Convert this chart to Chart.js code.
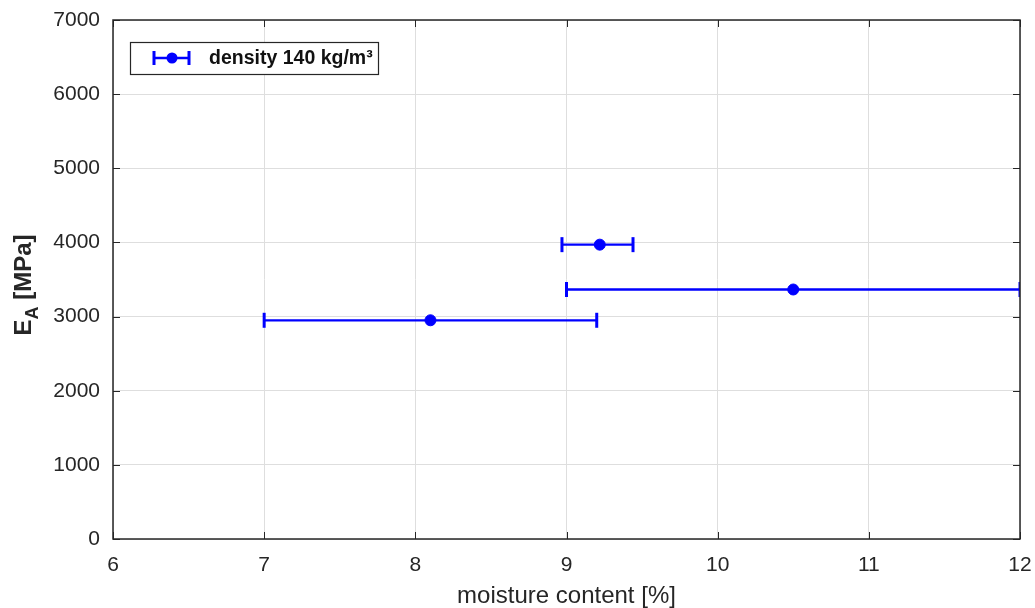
<!DOCTYPE html>
<html>
<head>
<meta charset="utf-8">
<script src="https://cdn.jsdelivr.net/npm/chart.js@4/dist/chart.umd.min.js"></script>
<style>
  html, body { margin: 0; padding: 0; background: #fff; }
  #wrap { width: 1035px; height: 608px; }
</style>
</head>
<body>
<div id="wrap"><canvas id="chart"></canvas></div>
<script>
// moisture content [%] with min / max range, and modulus E_A [MPa]
const moisture = [8.1, 9.22, 10.5]
const moistureLow = [7.0, 8.97, 9.0]
const moistureHigh = [9.2, 9.44, 12.0]
const modulus = [2950, 3970, 3365]

const xTicks = [6, 7, 8, 9, 10, 11, 12]
const yTicks = [0, 1000, 2000, 3000, 4000, 5000, 6000, 7000]

const seriesLabel = 'density 140 kg/m³'
const blue = '#0000ff'
const axisColor = '#262626'
const fontFamily = '"Liberation Sans", Arial, sans-serif'

// one little line dataset per horizontal error bar, caps drawn as rotated 'line' points
const errorSets = moisture.map((m, i) => ({
    type: 'line',
    data: [{x: moistureLow[i], y: modulus[i]}, {x: moistureHigh[i], y: modulus[i]}],
    borderColor: blue,
    borderWidth: 2.3,
    pointStyle: 'line',
    rotation: 90,
    pointRadius: 7.5,
    pointBorderWidth: 3,
    pointBorderColor: blue,
    clip: 0
}))

const pointSet = {
    type: 'scatter',
    label: seriesLabel,
    data: moisture.map((m, i) => ({x: m, y: modulus[i]})),
    backgroundColor: blue,
    borderColor: blue,
    pointRadius: 5.5,
    pointHoverRadius: 5.5
}

// frame, inner ticks, y title with subscript and the legend box
const decorations = {
    id: 'decorations',
    afterDatasetsDraw(chart) {
        const ctx = chart.ctx
        const a = chart.chartArea
        const xs = chart.scales.x
        const ys = chart.scales.y
        ctx.save()

        ctx.strokeStyle = axisColor
        ctx.lineWidth = 1
        ctx.beginPath()
        xTicks.forEach(t => {
            const px = Math.round(xs.getPixelForValue(t)) + 0.5
            ctx.moveTo(px, a.bottom); ctx.lineTo(px, a.bottom - 7)
            ctx.moveTo(px, a.top); ctx.lineTo(px, a.top + 7)
        })
        yTicks.forEach(t => {
            const py = Math.round(ys.getPixelForValue(t)) + 0.5
            ctx.moveTo(a.left, py); ctx.lineTo(a.left + 7, py)
            ctx.moveTo(a.right, py); ctx.lineTo(a.right - 7, py)
        })
        ctx.stroke()

        ctx.lineWidth = 1.5
        ctx.strokeRect(a.left, a.top, a.right - a.left, a.bottom - a.top)

        // y axis title: E_A [MPa]
        ctx.translate(23, 285)
        ctx.rotate(-Math.PI / 2)
        ctx.fillStyle = axisColor
        ctx.textBaseline = 'alphabetic'
        ctx.textAlign = 'left'
        const big = 'bold 24px ' + fontFamily
        const small = 'bold 18px ' + fontFamily
        ctx.font = big
        const wE = ctx.measureText('E').width
        ctx.font = small
        const wA = ctx.measureText('A').width
        ctx.font = big
        const wRest = ctx.measureText(' [MPa]').width
        const x0 = -(wE + wA + wRest) / 2
        const base = 8
        ctx.fillText('E', x0, base)
        ctx.font = small
        ctx.fillText('A', x0 + wE, base + 7)
        ctx.font = big
        ctx.fillText(' [MPa]', x0 + wE + wA, base)
        ctx.setTransform(1, 0, 0, 1, 0, 0)

        // legend
        const lx = 130, ly = 42, lw = 248, lh = 32
        ctx.fillStyle = '#fff'
        ctx.fillRect(lx, ly, lw, lh)
        ctx.strokeStyle = axisColor
        ctx.lineWidth = 1.2
        ctx.strokeRect(lx + 0.5, ly + 0.5, lw, lh)
        const cy = ly + lh / 2
        ctx.strokeStyle = blue
        ctx.lineWidth = 2.3
        ctx.beginPath()
        ctx.moveTo(154, cy); ctx.lineTo(189, cy)
        ctx.stroke()
        ctx.lineWidth = 3
        ctx.beginPath()
        ctx.moveTo(154, cy - 7); ctx.lineTo(154, cy + 7)
        ctx.moveTo(189, cy - 7); ctx.lineTo(189, cy + 7)
        ctx.stroke()
        ctx.fillStyle = blue
        ctx.beginPath()
        ctx.arc(172, cy, 5.5, 0, Math.PI * 2)
        ctx.fill()
        ctx.fillStyle = '#111'
        ctx.font = 'bold 19.5px ' + fontFamily
        ctx.textBaseline = 'middle'
        ctx.fillText(seriesLabel, 209, cy + 1)

        ctx.restore()
    }
}

new Chart(document.getElementById('chart'), {
    data: {datasets: [...errorSets, pointSet]},
    options: {
        responsive: true,
        maintainAspectRatio: false,
        animation: false,
        layout: {padding: {top: 20, right: 15, left: 0, bottom: 0}},
        plugins: {legend: {display: false}, tooltip: {enabled: false}},
        scales: {
            x: {
                type: 'linear',
                min: 6, max: 12,
                afterBuildTicks: s => { s.ticks = xTicks.map(v => ({value: v})) },
                afterFit: s => { s.height = 69; s.paddingLeft = 0; s.paddingRight = 0 },
                grid: {color: '#dedede', drawTicks: false},
                border: {display: false},
                ticks: {color: axisColor, padding: 14, font: {size: 21, family: fontFamily}, callback: v => String(v)},
                title: {display: true, text: 'moisture content [%]', color: axisColor, padding: {top: 5, bottom: -3}, font: {size: 24, family: fontFamily}}
            },
            y: {
                type: 'linear',
                min: 0, max: 7000,
                afterBuildTicks: s => { s.ticks = yTicks.map(v => ({value: v})) },
                afterFit: s => { s.width = 113; s.paddingTop = 0; s.paddingBottom = 0 },
                grid: {color: '#dedede', drawTicks: false},
                border: {display: false},
                ticks: {color: axisColor, padding: 13, font: {size: 21, family: fontFamily}, callback: v => String(v)}
            }
        }
    },
    plugins: [decorations]
})
</script>
</body>
</html>
